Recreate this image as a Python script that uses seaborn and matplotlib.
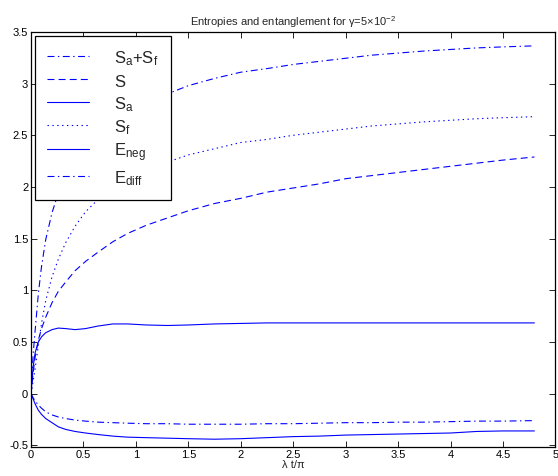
import matplotlib
matplotlib.use("Agg")
import matplotlib.pyplot as plt
import seaborn as sns

# time axis (lambda t / pi)
t = [0, 0.02, 0.04, 0.07, 0.1, 0.14, 0.2, 0.26, 0.33, 0.42, 0.52, 0.64, 0.78, 0.92,
     1.1, 1.3, 1.5, 1.75, 2.0, 2.25, 2.5, 2.75, 3.0, 3.25, 3.5, 3.75, 4.0, 4.25, 4.5, 4.8]

sa_sf = [0, 0.38, 0.62, 0.97, 1.23, 1.49, 1.75, 1.94, 2.09, 2.24, 2.39, 2.54, 2.66, 2.74,
         2.82, 2.90, 2.98, 3.05, 3.11, 3.145, 3.185, 3.215, 3.245, 3.275, 3.295, 3.315,
         3.33, 3.345, 3.355, 3.365]
s_tot = [0, 0.2, 0.36, 0.52, 0.63, 0.74, 0.88, 0.99, 1.08, 1.19, 1.28, 1.37, 1.47, 1.55,
         1.63, 1.70, 1.77, 1.84, 1.89, 1.95, 1.99, 2.03, 2.08, 2.11, 2.14, 2.17, 2.20,
         2.23, 2.26, 2.29]
s_a = [0, 0.26, 0.40, 0.50, 0.55, 0.59, 0.62, 0.635, 0.63, 0.62, 0.63, 0.655, 0.675, 0.675,
       0.665, 0.66, 0.665, 0.675, 0.68, 0.685, 0.685, 0.685, 0.685, 0.685, 0.685, 0.685,
       0.685, 0.685, 0.685, 0.685]
s_f = [0, 0.12, 0.25, 0.47, 0.68, 0.9, 1.13, 1.3, 1.46, 1.62, 1.76, 1.88, 1.98, 2.06,
       2.15, 2.24, 2.31, 2.37, 2.43, 2.46, 2.5, 2.53, 2.56, 2.59, 2.61, 2.63, 2.645,
       2.66, 2.67, 2.68]
e_neg = [0, -0.05, -0.1, -0.16, -0.2, -0.24, -0.28, -0.32, -0.345, -0.365, -0.38, -0.395,
         -0.41, -0.42, -0.425, -0.43, -0.435, -0.44, -0.435, -0.425, -0.415, -0.41, -0.40,
         -0.395, -0.39, -0.385, -0.38, -0.365, -0.36, -0.36]
e_diff = [0, -0.04, -0.07, -0.11, -0.14, -0.175, -0.205, -0.225, -0.24, -0.255, -0.265,
          -0.275, -0.28, -0.285, -0.29, -0.29, -0.295, -0.295, -0.295, -0.29, -0.29,
          -0.285, -0.28, -0.28, -0.275, -0.275, -0.27, -0.265, -0.265, -0.26]

labels = ["S$_a$+S$_f$", "S", "S$_a$", "S$_f$", "E$_{neg}$", "E$_{diff}$"]

sns.set_style("ticks")
plt.rcParams["font.family"] = ["Liberation Sans", "DejaVu Sans"]
plt.rcParams["mathtext.default"] = "regular"
plt.rcParams["lines.scale_dashes"] = False

fig = plt.figure(figsize=(5.58, 4.76), dpi=100)
ax = fig.add_axes([0.0556, 0.061, 0.9397, 0.872])

dashdot = (0, (5, 2.5, 1, 2.5))
dashed = (0, (5, 3))
dotted = (0, (1, 2.5))
series = [(sa_sf, dashdot), (s_tot, dashed), (s_a, "-"), (s_f, dotted),
          (e_neg, "-"), (e_diff, dashdot)]
for (vals, ls), lab in zip(series, labels):
    sns.lineplot(x=t, y=vals, ax=ax, color="blue", linewidth=0.8,
                 linestyle=ls, label=lab)

ax.set_xlim(0, 5)
ax.set_ylim(-0.515, 3.5)
ax.set_xticks([i * 0.5 for i in range(11)])
ax.set_yticks([-0.5 + i * 0.5 for i in range(9)])
ax.set_xticklabels(["0", "0.5", "1", "1.5", "2", "2.5", "3", "3.5", "4", "4.5", "5"])
ax.set_yticklabels(["-0.5", "0", "0.5", "1", "1.5", "2", "2.5", "3", "3.5"])
ax.tick_params(direction="in", length=4, width=0.6, top=True, right=True,
               labelsize=8, pad=2, colors="black")
for sp in ax.spines.values():
    sp.set_linewidth(0.9)
    sp.set_color("black")

ax.set_title("Entropies and entanglement for \u03b3=5\u00d710$^{-2}$", fontsize=8, pad=4)
ax.set_xlabel("\u03bb t/\u03c0", fontsize=8, labelpad=0)

leg = ax.legend(loc="upper left", bbox_to_anchor=(0.007, 0.99), fontsize=12,
                handlelength=2.5, handleheight=1.3, handletextpad=1.5,
                labelspacing=0.25, borderpad=0.75, fancybox=False, framealpha=1,
                edgecolor="black", borderaxespad=0)
leg.get_frame().set_linewidth(0.9)

fig.savefig("out.png", dpi=100)
